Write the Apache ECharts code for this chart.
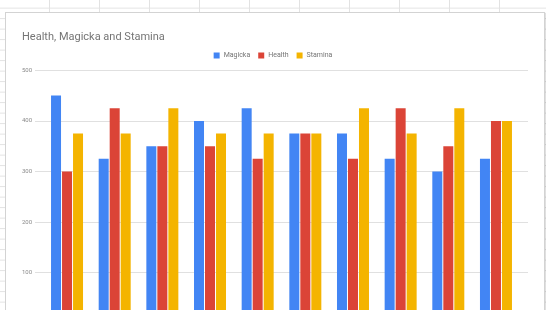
<!DOCTYPE html>
<html>
<head>
<meta charset="utf-8">
<script src="https://cdn.jsdelivr.net/npm/echarts@6/dist/echarts.min.js"></script>
<style>
  html, body { margin: 0; padding: 0; width: 546px; height: 310px; overflow: hidden; background: #fff; }
  #sheet {
    position: absolute; left: 0; top: 0; width: 546px; height: 310px;
    background-image:
      repeating-linear-gradient(to right, transparent 0, transparent 49px, #e2e2e2 49px, #e2e2e2 50px),
      repeating-linear-gradient(to bottom, transparent 0, transparent 7.5px, #e2e2e2 7.5px, #e2e2e2 8.5px, transparent 8.5px, transparent 10.5px);
    background-size: 50px 10.5px;
  }
  #card {
    position: absolute; left: 5px; top: 12px; width: 538px; height: 400px;
    background: #fff; border: 1px solid #d3d3d3;
    box-shadow: 1px 1px 1px rgba(0,0,0,0.12);
  }
  #chart { position: absolute; left: 0; top: 0; width: 546px; height: 360px; }
</style>
</head>
<body>
<div id="sheet"></div>
<div id="card"></div>
<div id="chart"></div>
<script>
const title = "Health, Magicka and Stamina";
const categories = ["1", "2", "3", "4", "5", "6", "7", "8", "9", "10"];
const magicka = [450, 325, 350, 400, 425, 375, 375, 325, 300, 325];
const health  = [300, 425, 350, 350, 325, 375, 325, 425, 350, 400];
const stamina = [375, 375, 425, 375, 375, 375, 425, 375, 425, 400];
const yTicks = { min: 0, max: 500, interval: 100 };

const chart = echarts.init(document.getElementById('chart'), null, { renderer: 'canvas' });
const font = 'Roboto, "Noto Sans", Arial, sans-serif';
const barStyle = (c) => ({ color: c });
chart.setOption({
  backgroundColor: 'transparent',
  animation: false,
  title: {
    text: title, left: 17, top: 27,
    textStyle: { fontFamily: font, fontSize: 11, fontWeight: 'normal', color: '#757575' }
  },
  legend: {
    data: ['Magicka', 'Health', 'Stamina'],
    left: 'center', top: 47,
    itemWidth: 6, itemHeight: 6, itemGap: 8,
    icon: 'rect',
    textStyle: { fontFamily: font, fontSize: 7, color: '#757575', padding: [0, 0, 0, -1] }
  },
  grid: [
    { left: 35, right: 18, top: 70.3, bottom: 36.7 },
    { left: 43.2, right: 26.2, top: 70.3, bottom: 36.7 }
  ],
  xAxis: [
    { type: 'value', gridIndex: 0, show: false, min: 0, max: 1 },
    { type: 'category', gridIndex: 1, data: categories, show: false }
  ],
  yAxis: [
    { type: 'value', gridIndex: 0, min: yTicks.min, max: yTicks.max, interval: yTicks.interval,
      axisLine: { show: false }, axisTick: { show: false },
      splitLine: { lineStyle: { color: '#e0e0e0', width: 1 } },
      axisLabel: { fontFamily: font, fontSize: 6, color: '#8a8a8a', margin: 3 } },
    { type: 'value', gridIndex: 1, min: yTicks.min, max: yTicks.max, interval: yTicks.interval, show: false,
      splitLine: { show: false } }
  ],
  series: [
    { name: 'Magicka', type: 'bar', xAxisIndex: 1, yAxisIndex: 1, data: magicka, barWidth: 10, barGap: '10%', itemStyle: barStyle('#4285f4') },
    { name: 'Health', type: 'bar', xAxisIndex: 1, yAxisIndex: 1, data: health, barWidth: 10, barGap: '10%', itemStyle: barStyle('#db4437') },
    { name: 'Stamina', type: 'bar', xAxisIndex: 1, yAxisIndex: 1, data: stamina, barWidth: 10, barGap: '10%', itemStyle: barStyle('#f4b400') }
  ]
});
</script>
</body>
</html>
